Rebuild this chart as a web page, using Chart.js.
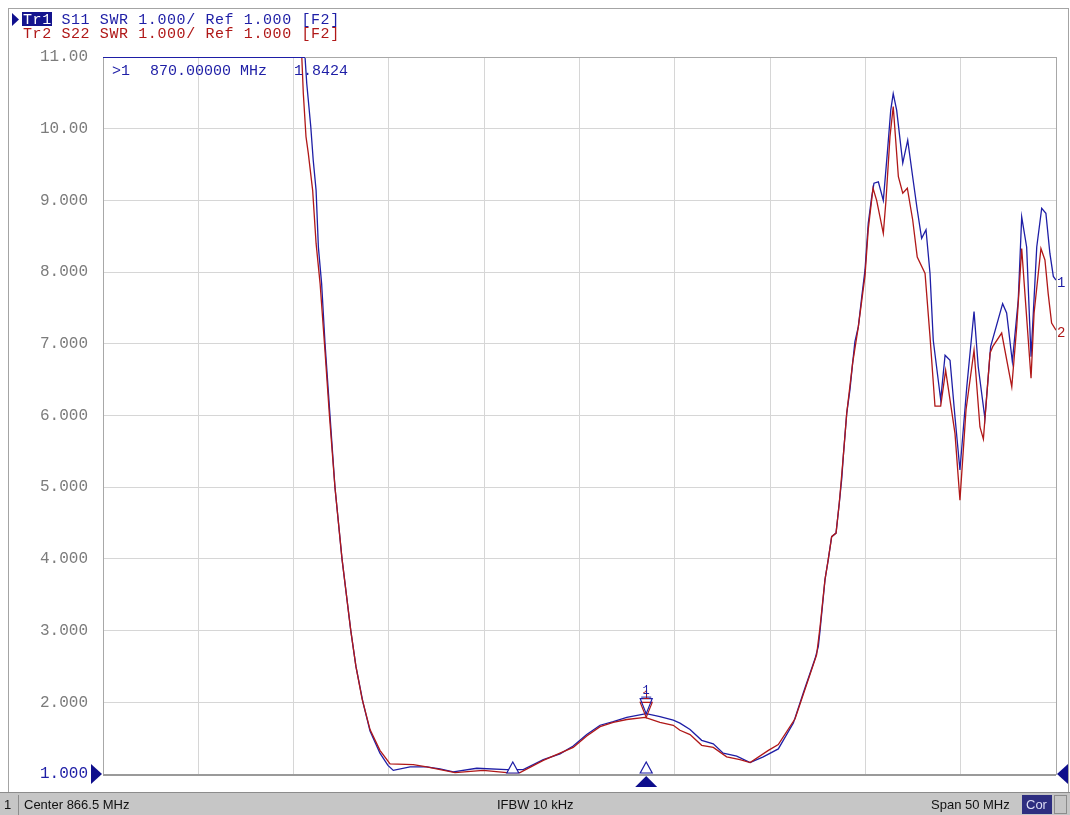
<!DOCTYPE html>
<html>
  <head>
    <meta charset="utf-8">
    <script src="https://cdn.jsdelivr.net/npm/chart.js@4.4.1/dist/chart.umd.min.js"></script>
    <style>
      body { margin: 0; background: #fff; }
      canvas { display: block; }
    </style>
  </head>
  <body>
    <canvas id="swrChart" width="1070" height="815"></canvas>
    <script>
      // S11 trace (frequency in MHz, SWR)
      const freqS11 = [841.5, 851.0, 852.10, 852.19, 852.40, 852.53, 852.68, 852.80, 852.97, 853.15, 853.41, 853.67, 854.04, 854.50, 854.77, 855.14, 855.51, 856.03, 856.45, 856.73, 857.61, 858.48, 859.18, 859.88, 861.11, 862.68, 863.55, 864.60, 865.48, 866.17, 866.88, 867.58, 868.27, 868.98, 870.0, 870.72, 871.42, 871.77, 872.30, 872.91, 873.52, 874.04, 874.75, 875.45, 876.14, 876.93, 877.72, 878.24, 878.86, 879.03, 879.12, 879.38, 879.55, 879.73, 879.96, 880.13, 880.26, 880.34, 880.52, 880.69, 880.83, 880.95, 881.13, 881.31, 881.48, 881.65, 881.83, 881.95, 882.18, 882.44, 882.65, 882.83, 882.96, 883.14, 883.46, 883.72, 883.98, 884.22, 884.45, 884.68, 884.89, 885.06, 885.45, 885.68, 885.94, 886.20, 886.46, 886.82, 887.20, 887.42, 887.77, 888.07, 888.70, 888.91, 889.21, 889.52, 889.70, 889.96, 890.19, 890.49, 890.75, 890.97, 891.18, 891.36, 891.5];
      const swrS11 = [25, 13, 11.0, 10.63, 10.03, 9.56, 9.14, 8.35, 7.84, 7.0, 6.0, 5.0, 4.0, 3.0, 2.5, 2.0, 1.6, 1.29, 1.12, 1.05, 1.10, 1.10, 1.07, 1.03, 1.08, 1.06, 1.06, 1.20, 1.28, 1.39, 1.55, 1.68, 1.73, 1.79, 1.8424, 1.80, 1.75, 1.71, 1.62, 1.47, 1.42, 1.29, 1.25, 1.16, 1.24, 1.35, 1.71, 2.13, 2.61, 2.78, 3.0, 3.71, 3.99, 4.31, 4.36, 4.78, 5.12, 5.43, 6.03, 6.36, 6.73, 7.03, 7.24, 7.66, 8.03, 8.68, 9.05, 9.24, 9.26, 9.0, 9.66, 10.26, 10.49, 10.26, 9.52, 9.84, 9.33, 8.87, 8.47, 8.59, 7.98, 7.05, 6.22, 6.84, 6.77, 5.98, 5.24, 6.40, 7.45, 6.68, 5.96, 6.96, 7.56, 7.43, 6.75, 7.61, 8.77, 8.35, 6.82, 8.35, 8.89, 8.82, 8.26, 7.94, 7.89];

      // S22 trace
      const freqS22 = [841.5, 851.0, 851.93, 852.01, 852.15, 852.27, 852.50, 852.68, 852.89, 853.12, 853.38, 853.67, 854.04, 854.50, 854.77, 855.09, 855.51, 856.03, 856.56, 857.78, 858.48, 859.97, 861.45, 862.68, 863.38, 864.60, 866.17, 866.88, 867.58, 868.27, 868.98, 869.94, 870.72, 871.42, 871.77, 872.30, 872.91, 873.52, 874.22, 874.92, 875.45, 876.41, 876.93, 877.81, 878.94, 879.12, 879.38, 879.55, 879.73, 879.96, 880.13, 880.34, 880.52, 880.83, 881.13, 881.48, 881.65, 881.90, 882.09, 882.44, 882.58, 882.79, 882.96, 883.23, 883.46, 883.70, 883.98, 884.22, 884.63, 884.89, 885.15, 885.45, 885.71, 886.20, 886.46, 886.78, 887.20, 887.51, 887.69, 888.04, 888.18, 888.65, 889.18, 889.44, 889.70, 889.87, 890.19, 890.35, 890.71, 890.92, 891.09, 891.27, 891.5];
      const swrS22 = [25, 13, 11.0, 10.49, 9.89, 9.66, 9.14, 8.40, 7.84, 7.0, 6.0, 5.0, 4.0, 3.0, 2.5, 2.05, 1.62, 1.33, 1.14, 1.13, 1.10, 1.02, 1.05, 1.02, 1.02, 1.19, 1.37, 1.53, 1.66, 1.72, 1.76, 1.79, 1.72, 1.68, 1.61, 1.55, 1.40, 1.37, 1.24, 1.20, 1.16, 1.33, 1.41, 1.77, 2.66, 3.05, 3.71, 3.99, 4.31, 4.36, 4.78, 5.43, 6.03, 6.73, 7.24, 7.95, 8.6, 9.17, 9.0, 8.54, 9.0, 9.89, 10.31, 9.33, 9.10, 9.17, 8.73, 8.21, 7.98, 7.10, 6.13, 6.13, 6.63, 5.75, 4.82, 6.08, 6.91, 5.84, 5.67, 6.87, 6.96, 7.15, 6.40, 7.24, 8.33, 7.70, 6.52, 7.43, 8.33, 8.17, 7.70, 7.29, 7.19];

      const xGrid = [841.5, 846.5, 851.5, 856.5, 861.5, 866.5, 871.5, 876.5, 881.5, 886.5, 891.5];
      const markerFreq = 870.0;
      const markerS11 = 1.8424;
      const markerS22 = 1.79;
      const refMarkerFreq = 863.0;

      const header1 = 'Tr1 S11 SWR 1.000/ Ref 1.000 [F2]';
      const header2 = 'Tr2 S22 SWR 1.000/ Ref 1.000 [F2]';
      const readout = ['>1', '870.00000 MHz', '1.8424'];
      const statusText = ['1', 'Center 866.5 MHz', 'IFBW 10 kHz', 'Span 50 MHz', 'Cor'];

      const BLUE = '#1e1ea6';
      const RED = '#b01818';
      const MONO = '"Liberation Mono", "DejaVu Sans Mono", monospace';

      function mono(ctx, str, x, y, pitch, color) {
        ctx.fillStyle = color;
        for (let i = 0; i < str.length; i++) {
          ctx.fillText(str[i], x + i * pitch, y);
        }
      }

      function tri(ctx, pts, fill, stroke) {
        ctx.beginPath();
        ctx.moveTo(pts[0][0], pts[0][1]);
        ctx.lineTo(pts[1][0], pts[1][1]);
        ctx.lineTo(pts[2][0], pts[2][1]);
        ctx.closePath();
        if (fill) { ctx.fillStyle = fill; ctx.fill(); }
        if (stroke) { ctx.strokeStyle = stroke; ctx.lineWidth = 1.2; ctx.stroke(); }
      }

      const analyzerFrame = {
        id: 'analyzerFrame',
        beforeDraw(chart) {
          const ctx = chart.ctx;
          ctx.save();
          ctx.fillStyle = '#fff';
          ctx.fillRect(0, 0, chart.width, chart.height);

          // outer frame
          ctx.strokeStyle = '#a4a4a4';
          ctx.lineWidth = 1;
          ctx.strokeRect(8.5, 8.5, 1060, 784);

          // header lines
          ctx.font = '15px ' + MONO;
          ctx.textBaseline = 'alphabetic';
          tri(ctx, [[12, 13], [12, 26], [19, 19.5]], '#10108e');
          ctx.fillStyle = '#14148e';
          ctx.fillRect(22, 12, 30, 14);
          mono(ctx, header1.slice(0, 3), 23, 24, 9.6, '#fff');
          mono(ctx, header1.slice(3), 23 + 3 * 9.6, 24, 9.6, BLUE);
          mono(ctx, header2, 23, 38, 9.6, RED);

          // status bar
          ctx.fillStyle = '#c6c6c6';
          ctx.fillRect(0, 793, 1070, 22);
          ctx.fillStyle = '#8c8c8c';
          ctx.fillRect(0, 792, 1070, 1);
          ctx.fillRect(18, 795, 1, 20);
          ctx.font = '13px "Liberation Sans", Arial, sans-serif';
          ctx.fillStyle = '#111';
          ctx.textAlign = 'left';
          ctx.fillText(statusText[0], 4, 809);
          ctx.fillText(statusText[1], 24, 809, 124);
          ctx.fillText(statusText[2], 497, 809, 86);
          ctx.fillText(statusText[3], 931, 809, 84);
          ctx.fillStyle = '#2e2e80';
          ctx.fillRect(1022, 795, 30, 19);
          ctx.fillStyle = '#dcdcf4';
          ctx.fillText(statusText[4], 1026, 809, 23);
          ctx.strokeStyle = '#8c8c8c';
          ctx.strokeRect(1054.5, 795.5, 12, 18);
          ctx.restore();
        },
        afterDatasetsDraw(chart) {
          const ctx = chart.ctx;
          const a = chart.chartArea;
          const xs = chart.scales.x;
          const ys = chart.scales.y;
          ctx.save();

          // plot border
          ctx.strokeStyle = '#a8a8a8';
          ctx.lineWidth = 1;
          ctx.strokeRect(a.left + 0.5, a.top + 0.5, a.right - a.left, a.bottom - a.top);
          ctx.fillStyle = '#9a9a9a';
          ctx.fillRect(a.left, a.bottom, a.right - a.left, 2);
          ctx.fillStyle = BLUE;
          ctx.fillRect(a.left, a.top, 202, 1);

          // marker readout
          ctx.font = '15px ' + MONO;
          ctx.fillStyle = BLUE;
          ctx.fillText(readout[0], 112, 75);
          ctx.fillText(readout[1], 150, 75);
          ctx.fillText(readout[2], 294, 75);

          // marker 1 on both traces
          const mx = xs.getPixelForValue(markerFreq);
          const yr = ys.getPixelForValue(markerS22);
          const yb = ys.getPixelForValue(markerS11);
          tri(ctx, [[mx - 6, yr - 15], [mx + 6, yr - 15], [mx, yr]], null, RED);
          tri(ctx, [[mx - 6, yb - 15], [mx + 6, yb - 15], [mx, yb]], null, BLUE);
          ctx.font = '12px ' + MONO;
          ctx.textAlign = 'center';
          ctx.fillStyle = RED;
          ctx.fillText('1', mx, yr - 18);
          ctx.fillStyle = BLUE;
          ctx.fillText('1', mx, yb - 20);
          ctx.fillRect(mx - 5, yb - 17, 10, 1);

          // stimulus markers on the baseline
          const rx = xs.getPixelForValue(refMarkerFreq);
          const b = a.bottom;
          tri(ctx, [[rx - 6, b - 1], [rx + 6, b - 1], [rx, b - 12]], '#fff', BLUE);
          tri(ctx, [[mx - 6, b - 1], [mx + 6, b - 1], [mx, b - 12]], '#fff', BLUE);
          tri(ctx, [[mx - 11, b + 13], [mx + 11, b + 13], [mx, b + 2]], '#0e0e8c');

          // reference position arrows
          tri(ctx, [[a.left - 12, b - 10], [a.left - 12, b + 10], [a.left - 1, b]], '#0e0e8c');
          tri(ctx, [[a.right + 12, b - 10], [a.right + 12, b + 10], [a.right + 1, b]], '#0e0e8c');

          // trace end labels
          ctx.font = '14px ' + MONO;
          ctx.textAlign = 'left';
          ctx.fillStyle = BLUE;
          ctx.fillText('1', a.right + 1, ys.getPixelForValue(swrS11[swrS11.length - 1]) + 7);
          ctx.fillStyle = RED;
          ctx.fillText('2', a.right + 1, ys.getPixelForValue(swrS22[swrS22.length - 1]) + 7);
          ctx.restore();
        }
      };

      const ctx = document.getElementById('swrChart');
      const chart = new Chart(ctx, {
        type: 'scatter',
        data: {
          datasets: [{
            label: 'S22',
            data: freqS22.map((f, i) => ({ x: f, y: swrS22[i] })),
            showLine: true,
            borderColor: RED,
            borderWidth: 1.3,
            pointRadius: 0,
            tension: 0
          }, {
            label: 'S11',
            data: freqS11.map((f, i) => ({ x: f, y: swrS11[i] })),
            showLine: true,
            borderColor: BLUE,
            borderWidth: 1.3,
            pointRadius: 0,
            tension: 0
          }]
        },
        options: {
          responsive: false,
          animation: false,
          layout: { padding: { left: 0, top: 57, right: 14, bottom: 41 } },
          plugins: {
            legend: { display: false },
            tooltip: { enabled: false }
          },
          scales: {
            x: {
              type: 'linear',
              min: 841.5,
              max: 891.5,
              afterBuildTicks: s => { s.ticks = xGrid.map(v => ({ value: v })); },
              afterFit: s => { s.height = 0; },
              ticks: { display: false },
              grid: { color: '#d6d6d6', drawTicks: false },
              border: { display: false }
            },
            y: {
              min: 1,
              max: 11,
              afterFit: s => { s.width = 103; },
              ticks: {
                stepSize: 1,
                padding: 15,
                font: { family: MONO, size: 16 },
                color: c => (c.tick && c.tick.value === 1) ? BLUE : '#7c7c7c',
                callback: v => v >= 10 ? v.toFixed(2) : v.toFixed(3)
              },
              grid: { color: '#d6d6d6', drawTicks: false },
              border: { display: false }
            }
          }
        },
        plugins: [analyzerFrame]
      });
    </script>
  </body>
</html>
